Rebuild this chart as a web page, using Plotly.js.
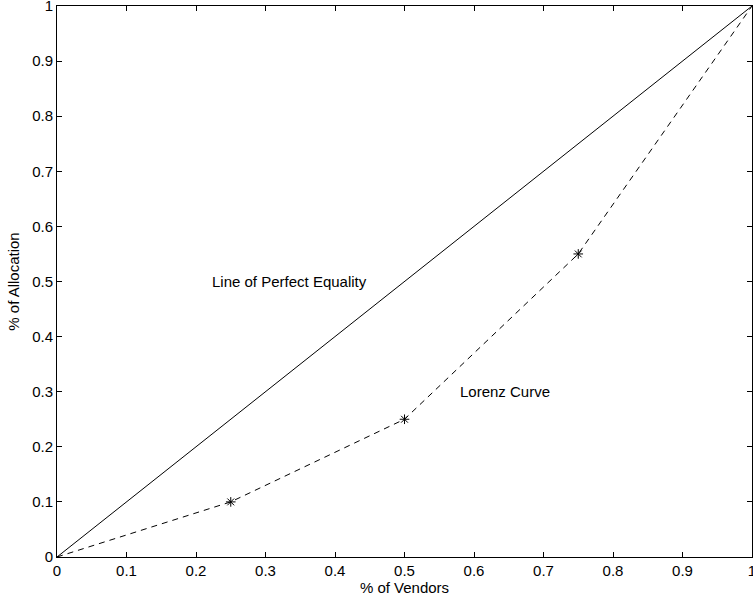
<!DOCTYPE html>
<html><head><meta charset="utf-8">
<script src="https://cdn.plot.ly/plotly-3.0.1.min.js"></script>
<style>body{margin:0;background:#fff}#chart{width:753px;height:603px}</style>
</head><body><div id="chart"></div>
<script>
const equalityX = [0, 1];
const equalityY = [0, 1];
const lorenzX = [0, 0.25, 0.5, 0.75, 1];
const lorenzY = [0, 0.1, 0.25, 0.55, 1];
const markerX = [0.25, 0.5, 0.75];
const markerY = [0.1, 0.25, 0.55];
const tickVals = [0, 0.1, 0.2, 0.3, 0.4, 0.5, 0.6, 0.7, 0.8, 0.9, 1];
const tickText = ['0', '0.1', '0.2', '0.3', '0.4', '0.5', '0.6', '0.7', '0.8', '0.9', '1'];
const labels = [
  {x: 0.22, y: 0.5, text: 'Line of Perfect Equality'},
  {x: 0.577, y: 0.3, text: 'Lorenz Curve'}
];

const font = {family: 'Liberation Sans, Arial, sans-serif', size: 15, color: '#000'};
const traces = [
  {x: equalityX, y: equalityY, mode: 'lines', line: {color: '#000', width: 1}, hoverinfo: 'skip'},
  {x: lorenzX, y: lorenzY, mode: 'lines', line: {color: '#000', width: 1, dash: '6px,5px'}, hoverinfo: 'skip'},
  {x: markerX, y: markerY, mode: 'markers', marker: {symbol: 'asterisk-open', size: 8, color: '#000', line: {color: '#000', width: 1}}, hoverinfo: 'skip'}
];
const axisBase = {
  range: [0, 1], tickvals: tickVals, ticktext: tickText, ticks: 'inside', ticklen: 5, tickwidth: 1, tickcolor: '#000',
  showline: true, linecolor: '#000', linewidth: 1, mirror: 'ticks', showgrid: false, zeroline: false,
  tickfont: font, fixedrange: true, ticklabeloverflow: 'allow'
};
const layout = {
  width: 753, height: 603,
  margin: {l: 57, r: 1, t: 6, b: 46},
  showlegend: false,
  paper_bgcolor: '#fff', plot_bgcolor: '#fff',
  font: font,
  xaxis: Object.assign({}, axisBase, {title: {text: '% of Vendors', font: font, standoff: 3}}),
  yaxis: Object.assign({}, axisBase, {title: {text: '% of Allocation', font: font, standoff: 8}}),
  annotations: labels.map(l => ({x: l.x, y: l.y, xref: 'x', yref: 'y', text: l.text, showarrow: false, xanchor: 'left', yanchor: 'middle', font: font}))
};
Plotly.newPlot('chart', traces, layout, {displayModeBar: false, staticPlot: true});
</script></body></html>
